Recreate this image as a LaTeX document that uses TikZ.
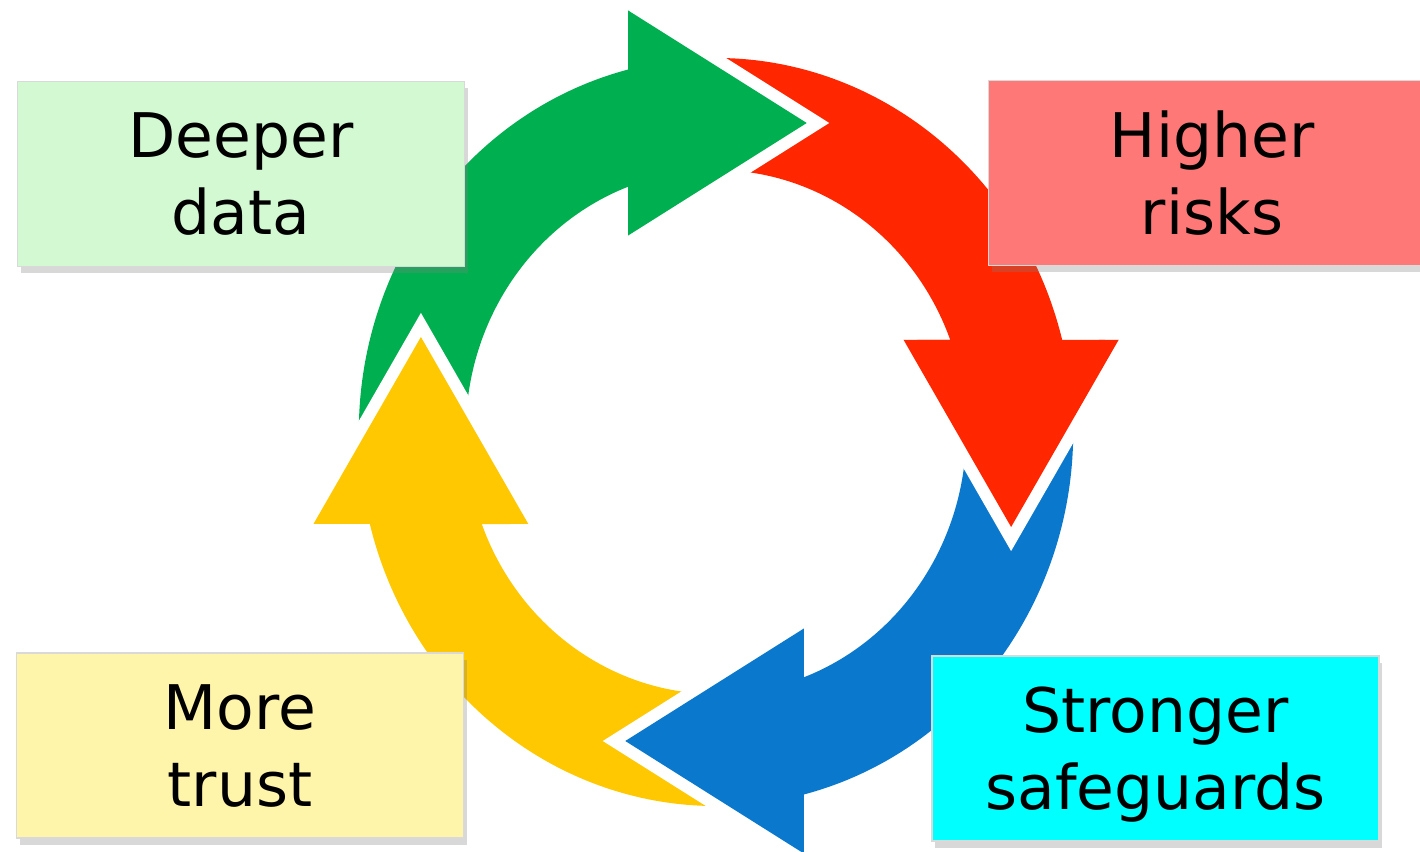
\documentclass[tikz,border=0pt]{standalone}
\usepackage{fontspec}
\setsansfont{DejaVu Sans}
\usepackage{xcolor}
\usepackage{tikz}
\usetikzlibrary{shadows}

\definecolor{cycgreen}{HTML}{00B050}
\definecolor{cycred}{HTML}{FF2600}
\definecolor{cycblue}{HTML}{0A78CC}
\definecolor{cycyellow}{HTML}{FFC800}
\definecolor{boxgreen}{HTML}{D3F9D3}
\definecolor{boxred}{HTML}{FF7878}
\definecolor{boxyellow}{HTML}{FFF5AA}
\definecolor{boxcyan}{HTML}{00FFFF}

\begin{document}
\begin{tikzpicture}[
    x=0.1mm, y=-0.1mm,
    font=\sffamily\fontsize{17.5}{21.9}\selectfont,
    box/.style={rectangle, draw=black!15, minimum width=44.7mm, minimum height=18.5mm, inner sep=0pt, align=center, text depth=0pt, drop shadow={shadow xshift=0.3mm, shadow yshift=-0.7mm, opacity=0.3}},
    gap/.style={draw=white, line width=2.4mm, line join=miter}
]
    \useasboundingbox[fill=white] (0,0) rectangle (1420,852);

    % Cycle arrows
    \begin{scope}[shift={(716,432)}, xscale=0.955, yscale=-1]
        \foreach \col/\rot in {cycgreen/0, cycred/90, cycblue/180, cycyellow/270}
            \fill[\col, rotate=\rot] (185:262) -- (185:374) arc[start angle=185, end angle=104.24, radius=374]
                -- (-92,421.5) -- (95,309) -- (-92,196.5) -- (110.56:262) arc[start angle=110.56, end angle=185, radius=262] -- cycle;
        % Heads cut into the next tail
        \foreach \col/\rot in {cycgreen/0, cycred/90, cycblue/180, cycyellow/270}{
            \draw[gap, rotate=\rot] (-92,421.5) -- (95,309) -- (-92,196.5);
            \fill[\col, rotate=\rot] (-92,421.5) -- (95,309) -- (-92,196.5) -- cycle;
        }
    \end{scope}

    % Boxes
    \node[box, fill=boxgreen] (deeper) at (241,174) {Deeper\\data};
    \node[box, fill=boxred] (higher) at (1212,173) {Higher\\risks};
    \node[box, fill=boxyellow] (trust) at (240,745.5) {More\\trust};
    \node[box, fill=boxcyan] (safe) at (1155.5,748.5) {Stronger\\safeguards};
\end{tikzpicture}
\end{document}
